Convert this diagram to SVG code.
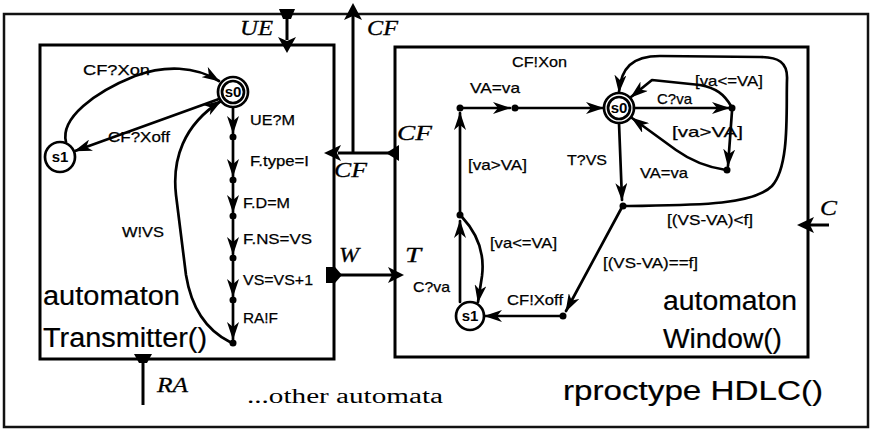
<svg xmlns="http://www.w3.org/2000/svg" width="871" height="431" viewBox="0 0 871 431">
<style>
.box{fill:none;stroke:#000;stroke-width:3}
.outer{fill:none;stroke:#111;stroke-width:2.5}
.e{fill:none;stroke:#000;stroke-width:2.7;stroke-linecap:round;stroke-linejoin:round;marker-end:url(#arr)}
.pl{fill:none;stroke:#000;stroke-width:3}
.fill{fill:#000;stroke:none}
.st{fill:#fff;stroke:#000;stroke-width:2.7}
.dot{fill:#000}
.lbl{font-family:"Liberation Sans",Arial,sans-serif;font-size:15px;fill:#000;stroke:#000;stroke-width:0.25}
.sn{font-family:"Liberation Sans",Arial,sans-serif;font-size:15px;font-weight:bold;text-anchor:middle;fill:#000}
.big{font-family:"Liberation Sans",Arial,sans-serif;font-size:27px;fill:#000;stroke:#000;stroke-width:0.2}
.port{font-family:"Liberation Serif","Times New Roman",serif;font-style:italic;font-size:22px;fill:#000;stroke:#000;stroke-width:0.3}
.ser{font-family:"Liberation Serif","Times New Roman",serif;font-size:20px;fill:#000}
</style>
<defs>
<marker id="arr" viewBox="0 0 18 12" refX="17" refY="6" markerWidth="18" markerHeight="12" orient="auto" markerUnits="userSpaceOnUse">
<path d="M0,0 L18,6 L0,12 L5,6 Z" fill="#000"/>
</marker>
</defs>
<rect width="871" height="431" fill="#fff"/>

<g id="hdlc">
<rect class="outer" x="4" y="14" width="864" height="413"/>
<text class="big" x="563" y="400" font-size="29" stroke-width="0" textLength="260" lengthAdjust="spacingAndGlyphs">rproctype HDLC()</text>
<text class="ser" x="247" y="403" textLength="196" lengthAdjust="spacingAndGlyphs">...other automata</text>
</g>

<g id="transmitter">
<rect class="box" x="40" y="45" width="294" height="314"/>
<text class="big" x="43" y="305" textLength="137" lengthAdjust="spacingAndGlyphs">automaton</text>
<text class="big" x="43" y="347" textLength="164" lengthAdjust="spacingAndGlyphs">Transmitter()</text>
</g>

<g id="window">
<rect class="box" x="395" y="47" width="413" height="310"/>
<text class="big" x="663" y="310" font-size="26" textLength="134" lengthAdjust="spacingAndGlyphs">automaton</text>
<text class="big" x="663" y="348" font-size="26" textLength="119" lengthAdjust="spacingAndGlyphs">Window()</text>
</g>

<g id="t-s0">
<circle class="st" cx="233" cy="92" r="15"/>
<circle class="st" cx="233" cy="92" r="11"/>
<text class="sn" x="233" y="97">s0</text>
</g>
<g id="t-s1">
<circle class="st" cx="60" cy="157" r="15"/>
<text class="sn" x="60" y="162">s1</text>
</g>
<g id="t-dots">
<circle class="dot" cx="233" cy="137" r="3.5"/>
<circle class="dot" cx="233" cy="180" r="3.5"/>
<circle class="dot" cx="233" cy="216" r="3.5"/>
<circle class="dot" cx="233" cy="258" r="3.5"/>
<circle class="dot" cx="233" cy="300" r="3.5"/>
<circle class="dot" cx="233" cy="343" r="3.5"/>
</g>

<g id="w-s0">
<circle class="st" cx="619" cy="108" r="15"/>
<circle class="st" cx="619" cy="108" r="11"/>
<text class="sn" x="619" y="113">s0</text>
</g>
<g id="w-s1">
<circle class="st" cx="470" cy="316" r="14"/>
<text class="sn" x="470" y="321">s1</text>
</g>
<g id="w-dots">
<circle class="dot" cx="460" cy="108" r="3.5"/>
<circle class="dot" cx="515" cy="108" r="3.5"/>
<circle class="dot" cx="732" cy="108" r="3.5"/>
<circle class="dot" cx="727" cy="170" r="3.5"/>
<circle class="dot" cx="623" cy="206" r="3.5"/>
<circle class="dot" cx="460" cy="215" r="3.5"/>
<circle class="dot" cx="563" cy="316" r="3.5"/>
</g>

<g id="connectors">
<!-- Transmitter -->
<path class="e" d="M66,142 C60,118 95,92 135,76 C165,65 195,66 219,81"/>
<path class="e" d="M219,99 L75,151"/>
<path class="e" d="M233,108 L233,133"/>
<path class="e" d="M233,141 L233,176"/>
<path class="e" d="M233,184 L233,212"/>
<path class="e" d="M233,220 L233,254"/>
<path class="e" d="M233,262 L233,296"/>
<path class="e" d="M233,304 L233,339"/>
<path class="e" d="M230,342 C210,332 192,312 186,275 L176,195 C172,160 183,125 221,101"/>
<!-- Window -->
<path class="e" d="M460,212 L460,113"/>
<path class="e" d="M463,108 L510,108"/>
<path class="e" d="M518,108 L603,108"/>
<path class="e" d="M634,108 L729,108"/>
<path class="e" d="M732,111 L728,166"/>
<path class="e" d="M731,106 C724,94 716,88 700,85 L652,80 L631,97"/>
<path class="e" d="M726,170 C705,167 690,160 676,150 L632,118"/>
<path class="e" d="M619,123 L622,200"/>
<path class="e" d="M626,206 C690,205 752,206 772,186 C790,166 786,110 787,80 C788,62 778,57 760,57 L660,56 C632,56 621,68 619,92"/>
<path class="e" d="M621,209 L566,311"/>
<path class="e" d="M560,316 L485,316"/>
<path class="e" d="M460,302 L460,221"/>
<path class="e" d="M462,217 C476,232 485,252 482,276 L478,302"/>
<!-- ports -->
<path class="fill" d="M279,9 L295,9 L291,19 L283,19 Z"/>
<line class="pl" x1="287" y1="14" x2="287" y2="40"/>
<path class="fill" d="M278,37 L287,41 L296,37 L287,53 Z"/>
<line class="pl" x1="353" y1="153" x2="353" y2="16"/>
<path class="fill" d="M353,3 L362,20 L353,16 L344,20 Z"/>
<line class="pl" x1="338" y1="153" x2="395" y2="153"/>
<path class="fill" d="M324,153 L341,145 L337,153 L341,161 Z"/>
<path class="fill" d="M386,153 L399,145 L399,161 Z"/>
<path class="fill" d="M326,267 L335,267 L342,275 L335,283 L326,283 Z"/>
<line class="pl" x1="338" y1="275" x2="392" y2="275"/>
<path class="fill" d="M404,275 L388,267 L392,275 L388,283 Z"/>
<line class="pl" x1="810" y1="225" x2="829" y2="225"/>
<path class="fill" d="M797,225 L814,217 L810,225 L814,233 Z"/>
<path class="fill" d="M134,354 L152,354 L147,363 L139,363 Z"/>
<line class="pl" x1="143" y1="359" x2="143" y2="405"/>
</g>

<g id="labels">
<text class="lbl" x="83" y="75" textLength="67" lengthAdjust="spacingAndGlyphs">CF?Xon</text>
<text class="lbl" x="108" y="142" textLength="62" lengthAdjust="spacingAndGlyphs">CF?Xoff</text>
<text class="lbl" x="250" y="125" textLength="45" lengthAdjust="spacingAndGlyphs">UE?M</text>
<text class="lbl" x="250" y="166" textLength="59" lengthAdjust="spacingAndGlyphs">F.type=I</text>
<text class="lbl" x="243" y="208" textLength="47" lengthAdjust="spacingAndGlyphs">F.D=M</text>
<text class="lbl" x="243" y="244" textLength="69" lengthAdjust="spacingAndGlyphs">F.NS=VS</text>
<text class="lbl" x="243" y="285" textLength="70" lengthAdjust="spacingAndGlyphs">VS=VS+1</text>
<text class="lbl" x="243" y="323" font-size="13" textLength="35" lengthAdjust="spacingAndGlyphs">RA!F</text>
<text class="lbl" x="122" y="237" textLength="42" lengthAdjust="spacingAndGlyphs">W!VS</text>

<text class="lbl" x="512" y="67" textLength="55" lengthAdjust="spacingAndGlyphs">CF!Xon</text>
<text class="lbl" x="470" y="93" textLength="50" lengthAdjust="spacingAndGlyphs">VA=va</text>
<text class="lbl" x="695" y="86" textLength="68" lengthAdjust="spacingAndGlyphs">[va&lt;=VA]</text>
<text class="lbl" x="657" y="104" textLength="35" lengthAdjust="spacingAndGlyphs">C?va</text>
<text class="lbl" x="672" y="137" textLength="71" lengthAdjust="spacingAndGlyphs">[va&gt;VA]</text>
<text class="lbl" x="640" y="178" textLength="48" lengthAdjust="spacingAndGlyphs">VA=va</text>
<text class="lbl" x="567" y="165" textLength="40" lengthAdjust="spacingAndGlyphs">T?VS</text>
<text class="lbl" x="468" y="170" textLength="59" lengthAdjust="spacingAndGlyphs">[va&gt;VA]</text>
<text class="lbl" x="667" y="225" textLength="86" lengthAdjust="spacingAndGlyphs">[(VS-VA)&lt;f]</text>
<text class="lbl" x="490" y="248" textLength="67" lengthAdjust="spacingAndGlyphs">[va&lt;=VA]</text>
<text class="lbl" x="603" y="268" textLength="95" lengthAdjust="spacingAndGlyphs">[(VS-VA)==f]</text>
<text class="lbl" x="413" y="292" textLength="37" lengthAdjust="spacingAndGlyphs">C?va</text>
<text class="lbl" x="507" y="305" textLength="56" lengthAdjust="spacingAndGlyphs">CF!Xoff</text>

<text class="port" x="240" y="35" textLength="33" lengthAdjust="spacingAndGlyphs">UE</text>
<text class="port" x="367" y="35" textLength="31" lengthAdjust="spacingAndGlyphs">CF</text>
<text class="port" x="397" y="140" textLength="35" lengthAdjust="spacingAndGlyphs">CF</text>
<text class="port" x="334" y="177" textLength="33" lengthAdjust="spacingAndGlyphs">CF</text>
<text class="port" x="339" y="262" textLength="20" lengthAdjust="spacingAndGlyphs">W</text>
<text class="port" x="405" y="262" textLength="16" lengthAdjust="spacingAndGlyphs">T</text>
<text class="port" x="820" y="215" textLength="17" lengthAdjust="spacingAndGlyphs">C</text>
<text class="port" x="157" y="392" textLength="31" lengthAdjust="spacingAndGlyphs">RA</text>
</g>
</svg>
